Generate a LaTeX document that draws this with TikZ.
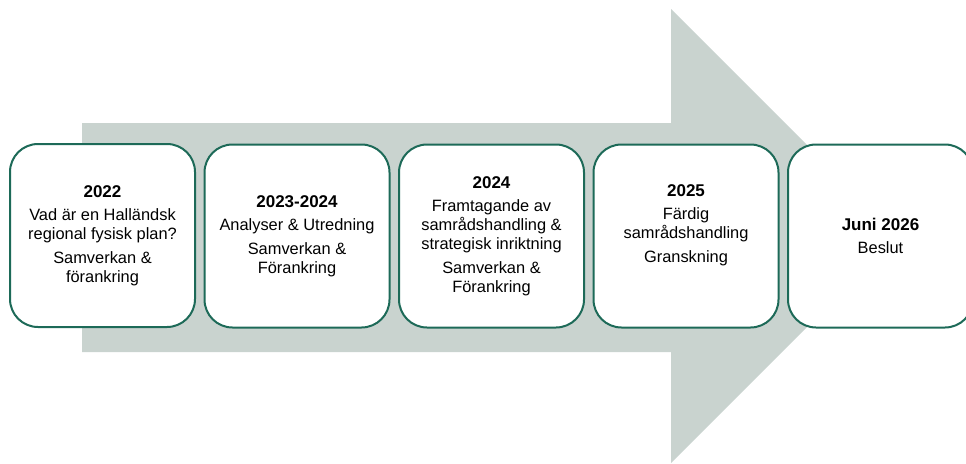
\documentclass[tikz,border=0pt]{standalone}
\usepackage{fontspec}
\setmainfont{Liberation Sans}
\definecolor{arrowgray}{HTML}{C9D3CF}
\definecolor{boxgreen}{HTML}{1D6A58}
\newcommand{\yearhead}[1]{{\fontsize{17}{19}\selectfont\bfseries #1}}

\begin{document}
\begin{tikzpicture}[x=1pt, y=-1pt, every node/.style={draw=boxgreen, line width=2pt, fill=white, rounded corners=28pt, minimum width=185pt, minimum height=183pt, inner sep=0pt, align=center, font=\fontsize{16.4}{19}\selectfont}]
\useasboundingbox (0,0) rectangle (966,463);
\fill[arrowgray] (82,123) -- (671,123) -- (671,9) -- (898,236) -- (671,463) -- (671,352) -- (82,352) -- cycle;

\node (y2022) at (102.5,235.5) {\yearhead{2022}\\[4pt] Vad är en Halländsk\\regional fysisk plan?\\[5pt] Samverkan \&\\förankring};
\node (y2023) at (297,236) {\yearhead{2023-2024}\\[4pt] Analyser \& Utredning\\[5pt] Samverkan \&\\Förankring};
\node (y2024) at (491.5,236) {\yearhead{2024}\\[4pt] Framtagande av\\samrådshandling \&\\strategisk inriktning\\[5pt] Samverkan \&\\Förankring};
\node (y2025) at (686,236) {\yearhead{2025}\\[4pt] Färdig\\samrådshandling\\[5pt] Granskning\\[1pt] \strut};
\node (y2026) at (880.5,236) {\yearhead{Juni 2026}\\[4pt] Beslut};
\end{tikzpicture}
\end{document}
